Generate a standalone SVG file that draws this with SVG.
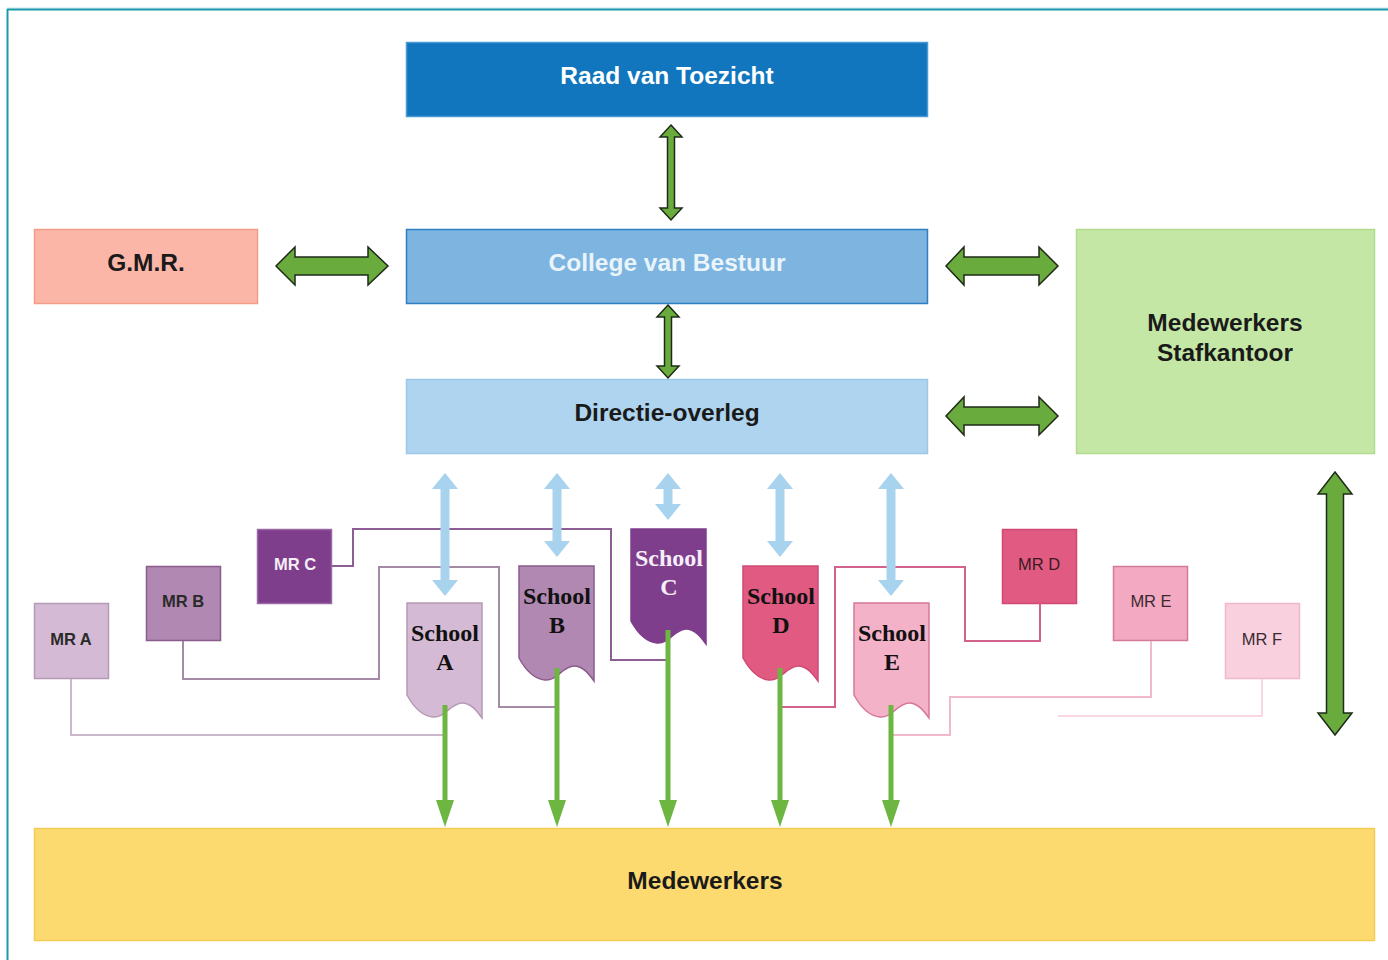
<svg xmlns="http://www.w3.org/2000/svg" width="1388" height="960" viewBox="0 0 1388 960">
<style>
.t{font-family:"Liberation Sans",Arial,sans-serif;font-weight:bold;text-anchor:middle}
.big{font-size:24.5px}
.mr{font-size:16.5px}
.mrn{font-size:16.5px;font-weight:normal}
.sc{font-family:"Liberation Serif","Times New Roman",serif;font-weight:bold;font-size:24px;text-anchor:middle}
.ga{fill:#6aab3d;stroke:#1f2b18;stroke-width:1.5;stroke-linejoin:miter}
.ba{fill:#a8d3ef}
.da{fill:#6cb641}
.ln{fill:none;stroke-width:2}
</style>
<defs>
<path id="doc" d="M0,0 H75 V115 C70,108 64,100 55,100 C44,100 38,115 26,114 C14,113 6,103 0,92 Z"/>
</defs>
<rect width="1388" height="960" fill="#ffffff"/>
<line x1="7" y1="8" x2="1388" y2="8" stroke="#bfe3e8" stroke-width="1"/>
<line x1="7" y1="9.5" x2="1388" y2="9.5" stroke="#1a9aab" stroke-width="2"/>
<line x1="7.5" y1="9" x2="7.5" y2="960" stroke="#1a9aab" stroke-width="2"/>

<g id="raad">
<rect x="406.5" y="42.5" width="521" height="74" fill="#1176bd" stroke="#4a9ad6" stroke-width="1.5"/>
<text class="t big" x="667" y="84" fill="#ffffff">Raad van Toezicht</text>
</g>
<g id="college">
<rect x="406.5" y="229.5" width="521" height="74" fill="#7db4e0" stroke="#2f7fc1" stroke-width="1.5"/>
<text class="t big" x="667" y="271" fill="#eaf4fb">College van Bestuur</text>
</g>
<g id="directie">
<rect x="406.5" y="379.5" width="521" height="74" fill="#aed4ef" stroke="#9cc8e8" stroke-width="1.5"/>
<text class="t big" x="667" y="421" fill="#1a1a1a">Directie-overleg</text>
</g>
<g id="gmr">
<rect x="34.5" y="229.5" width="223" height="74" fill="#fbb6a8" stroke="#f39c89" stroke-width="1.5"/>
<text class="t big" x="146" y="271" fill="#1a1a1a">G.M.R.</text>
</g>
<g id="stafkantoor">
<rect x="1076.5" y="229.5" width="298" height="224" fill="#c5e7a6" stroke="#b2dc8c" stroke-width="1.5"/>
<text class="t big" x="1225" y="331" fill="#1a1a1a">Medewerkers</text>
<text class="t big" x="1225" y="361" fill="#1a1a1a">Stafkantoor</text>
</g>
<g id="medewerkers">
<rect x="34.5" y="828.5" width="1340" height="112" fill="#fdda6f" stroke="#f2cc55" stroke-width="1.5"/>
<text class="t big" x="705" y="889" fill="#1a1a1a">Medewerkers</text>
</g>

<g id="mra">
<rect x="34.5" y="603.5" width="74" height="75" fill="#d5bad5" stroke="#b49bb4" stroke-width="1.5"/>
<text class="t mr" x="71" y="645" fill="#2a2a2a">MR A</text>
</g>
<g id="mrb">
<rect x="146.5" y="566.5" width="74" height="74" fill="#b088b1" stroke="#8a5c8b" stroke-width="1.5"/>
<text class="t mr" x="183" y="607" fill="#2a2a2a">MR B</text>
</g>
<g id="mrc">
<rect x="257.5" y="529.5" width="74" height="74" fill="#7f3e8c" stroke="#9b6aa5" stroke-width="1.5"/>
<text class="t mr" x="295" y="570" fill="#f4eef6">MR C</text>
</g>
<g id="mrd">
<rect x="1002.5" y="529.5" width="74" height="74" fill="#e05a82" stroke="#d04a74" stroke-width="1.5"/>
<text class="t mrn" x="1039" y="570" fill="#3a1a22">MR D</text>
</g>
<g id="mre">
<rect x="1113.5" y="566.5" width="74" height="74" fill="#f3a9c2" stroke="#d37a99" stroke-width="1.5"/>
<text class="t mrn" x="1151" y="607" fill="#3a2a30">MR E</text>
</g>
<g id="mrf">
<rect x="1225.5" y="603.5" width="74" height="75" fill="#f9d0de" stroke="#f0b9cb" stroke-width="1.5"/>
<text class="t mrn" x="1262" y="645" fill="#3a2a30">MR F</text>
</g>

<g id="schoolA" transform="translate(407,603)">
<use href="#doc" fill="#d5bad5" stroke="#b49bb4" stroke-width="1.5"/>
<text class="sc" x="38" y="38" fill="#111">School</text>
<text class="sc" x="38" y="67" fill="#111">A</text>
</g>
<g id="schoolB" transform="translate(519,566)">
<use href="#doc" fill="#b088b1" stroke="#8a5c8b" stroke-width="1.5"/>
<text class="sc" x="38" y="38" fill="#111">School</text>
<text class="sc" x="38" y="67" fill="#111">B</text>
</g>
<g id="schoolC" transform="translate(631,529)">
<use href="#doc" fill="#7f3e8c" stroke="#7f3e8c" stroke-width="1.5"/>
<text class="sc" x="38" y="37" fill="#f6eef8">School</text>
<text class="sc" x="38" y="66" fill="#f6eef8">C</text>
</g>
<g id="schoolD" transform="translate(743,566)">
<use href="#doc" fill="#e05a82" stroke="#d04a74" stroke-width="1.5"/>
<text class="sc" x="38" y="38" fill="#111">School</text>
<text class="sc" x="38" y="67" fill="#111">D</text>
</g>
<g id="schoolE" transform="translate(854,603)">
<use href="#doc" fill="#f4b2c8" stroke="#d6789a" stroke-width="1.5"/>
<text class="sc" x="38" y="38" fill="#111">School</text>
<text class="sc" x="38" y="67" fill="#111">E</text>
</g>

<g id="connectors">
<polyline class="ln" stroke="#cbb8cb" points="71,679 71,735 445,735"/>
<polyline class="ln" stroke="#a48ba5" points="183,641 183,679 379,679 379,567 499,567 499,707 557,707"/>
<polyline class="ln" stroke="#8c5e94" points="332,566 353,566 353,529 611,529 611,660 668,660"/>
<polyline class="ln" stroke="#d2628c" points="1040,603 1040,641 965,641 965,567 835,567 835,707 780,707"/>
<polyline class="ln" stroke="#f2b9cc" points="1151,641 1151,697 950,697 950,735 891,735"/>
<polyline class="ln" stroke="#f8d6e2" points="1262,679 1262,716 1058,716"/>

<polygon class="ga" points="671,125 682,137 674.5,137 674.5,208 682,208 671,220 660,208 667.5,208 667.5,137 660,137"/>
<polygon class="ga" points="668,305 679,317 671.5,317 671.5,366 679,366 668,378 657,366 664.5,366 664.5,317 657,317"/>
<polygon class="ga" points="276,266 295,247 295,257 368,257 368,247 388,266 368,285 368,275 295,275 295,285"/>
<polygon class="ga" points="946,266 964,247 964,257 1039,257 1039,247 1058,266 1039,285 1039,275 964,275 964,285"/>
<polygon class="ga" points="946,416 964,397 964,407 1039,407 1039,397 1058,416 1039,435 1039,425 964,425 964,435"/>
<polygon class="ga" points="1335,472 1352,494 1343.5,494 1343.5,713 1352,713 1335,735 1318,713 1326.5,713 1326.5,494 1318,494"/>

<polygon class="ba" points="445,473 458,489 449.5,489 449.5,580 458,580 445,596 432,580 440.5,580 440.5,489 432,489"/>
<polygon class="ba" points="557,473 570,489 561.5,489 561.5,541 570,541 557,557 544,541 552.5,541 552.5,489 544,489"/>
<polygon class="ba" points="668,473 681,489 672.5,489 672.5,504 681,504 668,520 655,504 663.5,504 663.5,489 655,489"/>
<polygon class="ba" points="780,473 793,489 784.5,489 784.5,541 793,541 780,557 767,541 775.5,541 775.5,489 767,489"/>
<polygon class="ba" points="891,473 904,489 895.5,489 895.5,580 904,580 891,596 878,580 886.5,580 886.5,489 878,489"/>

<polygon class="da" points="442.5,705 447.5,705 447.5,800 454,800 445,827 436,800 442.5,800"/>
<polygon class="da" points="554.5,668 559.5,668 559.5,800 566,800 557,827 548,800 554.5,800"/>
<polygon class="da" points="665.5,630 670.5,630 670.5,800 677,800 668,827 659,800 665.5,800"/>
<polygon class="da" points="777.5,668 782.5,668 782.5,800 789,800 780,827 771,800 777.5,800"/>
<polygon class="da" points="888.5,705 893.5,705 893.5,800 900,800 891,827 882,800 888.5,800"/>
</g>
</svg>
